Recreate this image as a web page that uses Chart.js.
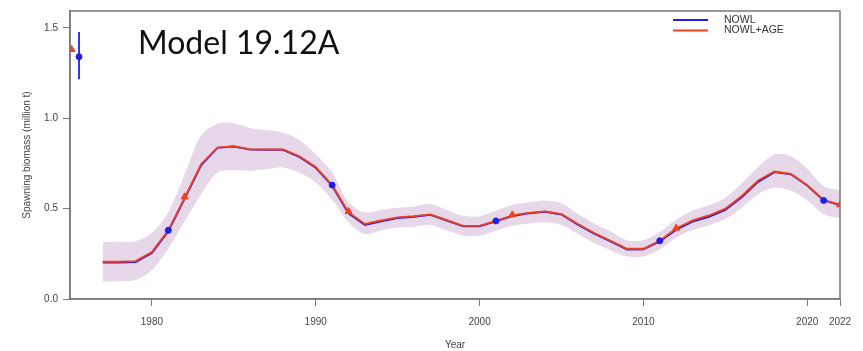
<!DOCTYPE html>
<html>
<head>
<meta charset="utf-8">
<script src="https://cdn.jsdelivr.net/npm/chart.js@4"></script>
<style>
  html, body { margin: 0; padding: 0; background: #fff; }
  #wrap { width: 863px; height: 351px; }
</style>
</head>
<body>
<div id="wrap"><canvas id="myChart" width="863" height="351"></canvas></div>
<script>
// years of the time series
const anos = [1977, 1978, 1979, 1980, 1981, 1982, 1983, 1984, 1985, 1986, 1987, 1988, 1989, 1990,
  1991, 1992, 1993, 1994, 1995, 1996, 1997, 1998, 1999, 2000, 2001, 2002, 2003, 2004, 2005, 2006,
  2007, 2008, 2009, 2010, 2011, 2012, 2013, 2014, 2015, 2016, 2017, 2018, 2019, 2020, 2021, 2022];

// NOWL+AGE (red)
const nowlAge = [0.206, 0.206, 0.210, 0.260, 0.380, 0.560, 0.745, 0.838, 0.845, 0.828, 0.827, 0.827, 0.790, 0.730,
  0.630, 0.480, 0.415, 0.435, 0.452, 0.458, 0.468, 0.436, 0.405, 0.404, 0.432, 0.462, 0.476, 0.485, 0.470, 0.415,
  0.365, 0.322, 0.278, 0.278, 0.322, 0.390, 0.435, 0.462, 0.500, 0.570, 0.655, 0.705, 0.692, 0.630, 0.548, 0.522];

// NOWL (blue)
const nowl = [0.202, 0.202, 0.205, 0.255, 0.375, 0.555, 0.740, 0.836, 0.844, 0.827, 0.826, 0.825, 0.786, 0.726,
  0.627, 0.474, 0.410, 0.430, 0.448, 0.455, 0.466, 0.434, 0.402, 0.402, 0.430, 0.459, 0.474, 0.483, 0.468, 0.412,
  0.362, 0.319, 0.274, 0.275, 0.318, 0.384, 0.428, 0.455, 0.493, 0.563, 0.648, 0.702, 0.690, 0.628, 0.545, 0.520];

// confidence band
const bandaSup = [0.315, 0.316, 0.320, 0.365, 0.480, 0.690, 0.905, 0.970, 0.972, 0.945, 0.935, 0.920, 0.880, 0.800,
  0.700, 0.535, 0.478, 0.492, 0.505, 0.512, 0.525, 0.492, 0.460, 0.458, 0.488, 0.520, 0.535, 0.545, 0.530, 0.470,
  0.418, 0.373, 0.325, 0.325, 0.372, 0.440, 0.490, 0.518, 0.560, 0.640, 0.730, 0.800, 0.790, 0.720, 0.625, 0.600];
const bandaInf = [0.097, 0.098, 0.105, 0.160, 0.280, 0.430, 0.580, 0.700, 0.712, 0.710, 0.718, 0.728, 0.700, 0.645,
  0.550, 0.425, 0.360, 0.380, 0.395, 0.400, 0.410, 0.380, 0.350, 0.350, 0.378, 0.405, 0.418, 0.425, 0.410, 0.360,
  0.310, 0.270, 0.235, 0.235, 0.275, 0.340, 0.382, 0.408, 0.442, 0.505, 0.580, 0.615, 0.600, 0.545, 0.470, 0.445];

// markers
const pontosAzuisX = [1975.55, 1981, 1991, 2001, 2011, 2021];
const pontosAzuisY = [1.34, 0.380, 0.630, 0.432, 0.322, 0.545];
const triangulosX = [1975.1, 1982, 1992, 2002, 2012, 2022];
const triangulosY = [1.38, 0.565, 0.485, 0.466, 0.392, 0.522];

// unfished biomass error bar (NOWL)
const erroAzulX = 1975.55;
const erroAzul = [1.215, 1.477];

const xTicks = [1980, 1990, 2000, 2010, 2020, 2022];
const yTicks = [0, 0.5, 1.0, 1.5];

const AZUL = '#1f1fe6';
const VERMELHO = '#f2401c';
const CINZA = '#7a7a7a';
const FONTE = '"Liberation Sans Narrow", "Liberation Sans", Arial';

const xy = (xs, ys) => xs.map((x, i) => ({ x: x, y: ys[i] }));

// texts drawn on the canvas (title, legend, frame)
const extras = {
  id: 'extras',
  afterDraw(chart) {
    const c = chart.ctx;
    const a = chart.chartArea;
    c.save();
    c.strokeStyle = CINZA;
    c.lineWidth = 1.5;
    c.strokeRect(a.left, a.top, a.right - a.left, a.bottom - a.top);

    c.fillStyle = '#111';
    c.font = '32px Lato, "Open Sans", sans-serif';
    c.textBaseline = 'alphabetic';
    c.fillText('Model 19.12A', 138, 54);

    // legend
    c.lineWidth = 2;
    c.strokeStyle = AZUL;
    c.beginPath(); c.moveTo(673, 20); c.lineTo(708, 20); c.stroke();
    c.strokeStyle = VERMELHO;
    c.beginPath(); c.moveTo(673, 30.5); c.lineTo(708, 30.5); c.stroke();
    c.fillStyle = '#333';
    c.font = '10.5px "Liberation Sans", Arial, sans-serif';
    c.textBaseline = 'middle';
    c.fillText('NOWL', 724, 20);
    c.fillText('NOWL+AGE', 724, 30);
    c.restore();
  }
};

const ctx = document.getElementById('myChart');

new Chart(ctx, {
  type: 'line',
  data: {
    datasets: [
      {
        label: 'upper',
        data: xy(anos, bandaSup),
        borderWidth: 0,
        pointRadius: 0,
        fill: '+1',
        backgroundColor: 'rgb(231, 216, 233)',
        tension: 0.3,
        order: 10
      },
      {
        label: 'lower',
        data: xy(anos, bandaInf),
        borderWidth: 0,
        pointRadius: 0,
        fill: false,
        tension: 0.3,
        order: 9
      },
      {
        label: 'NOWL',
        data: xy(anos, nowl),
        borderColor: AZUL,
        borderWidth: 2,
        pointRadius: 0,
        fill: false,
        order: 5
      },
      {
        label: 'NOWL+AGE',
        data: xy(anos, nowlAge),
        borderColor: VERMELHO,
        borderWidth: 1.8,
        pointRadius: 0,
        fill: false,
        order: 4
      },
      {
        label: 'erro',
        data: [{ x: erroAzulX, y: erroAzul[0] }, { x: erroAzulX, y: erroAzul[1] }],
        borderColor: AZUL,
        borderWidth: 1.8,
        pointRadius: 0,
        fill: false,
        order: 3
      },
      {
        label: 'pontos',
        data: xy(pontosAzuisX, pontosAzuisY),
        showLine: false,
        pointStyle: 'circle',
        pointRadius: 3,
        pointBackgroundColor: AZUL,
        pointBorderColor: AZUL,
        order: 2
      },
      {
        label: 'triangulos',
        data: xy(triangulosX, triangulosY),
        showLine: false,
        pointStyle: 'triangle',
        pointRadius: 4,
        pointBackgroundColor: VERMELHO,
        pointBorderColor: VERMELHO,
        order: 1
      }
    ]
  },
  options: {
    responsive: false,
    animation: false,
    layout: { padding: { top: 8, right: 23, left: 0, bottom: 0 } },
    plugins: { legend: { display: false }, tooltip: { enabled: false } },
    scales: {
      x: {
        type: 'linear',
        min: 1975,
        max: 2022,
        afterBuildTicks: (s) => { s.ticks = xTicks.map(v => ({ value: v })); },
        afterFit: (s) => { s.height = 52; },
        grid: { display: true, drawOnChartArea: false, tickLength: 7, color: CINZA },
        border: { display: true, color: CINZA, width: 1.5 },
        ticks: {
          color: '#444',
          padding: 10,
          maxRotation: 0,
          font: { family: FONTE, size: 10 },
          callback: (v) => String(v)
        },
        title: {
          display: true,
          text: 'Year',
          color: '#444',
          padding: { top: 8, bottom: 0 },
          font: { family: FONTE, size: 10 }
        }
      },
      y: {
        min: 0,
        max: 1.593,
        afterBuildTicks: (s) => { s.ticks = yTicks.map(v => ({ value: v })); },
        afterFit: (s) => { s.width = 70; },
        grid: { display: true, drawOnChartArea: false, tickLength: 7, color: CINZA },
        border: { display: true, color: CINZA, width: 1.5 },
        ticks: {
          color: '#444',
          padding: 5,
          font: { family: FONTE, size: 10 },
          callback: (v) => v.toFixed(1)
        },
        title: {
          display: true,
          text: 'Spawning biomass (million t)',
          color: '#444',
          padding: { top: 21, bottom: 0 },
          font: { family: FONTE, size: 10 }
        }
      }
    }
  },
  plugins: [extras]
});
</script>
</body>
</html>
